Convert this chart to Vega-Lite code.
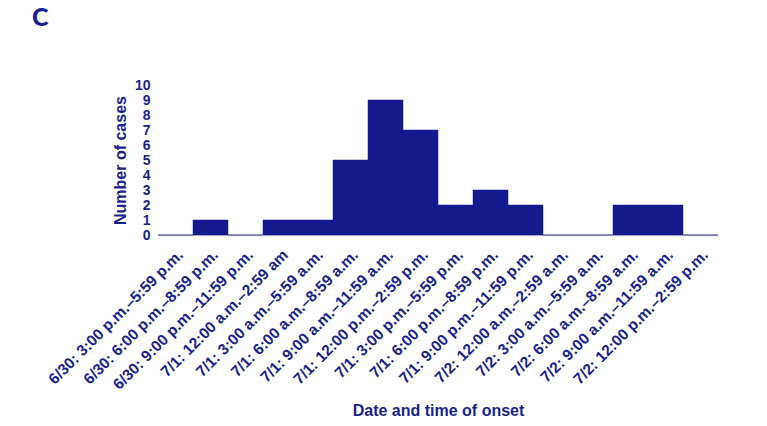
{
  "$schema": "https://vega.github.io/schema/vega-lite/v6.json",
  "width": 560,
  "height": 150,
  "autosize": "none",
  "padding": {"left": 158, "top": 85, "right": 49, "bottom": 191},
  "background": "white",
  "title": {"text": "C", "anchor": "start", "frame": "group", "dx": -126, "offset": 47, "fontSize": 25, "font": "Lato", "fontWeight": 900, "color": "#1A1F8E"},
  "data": {"values": [
    {"period": "6/30: 3:00 p.m.–5:59 p.m.", "cases": 0},
    {"period": "6/30: 6:00 p.m.–8:59 p.m.", "cases": 1},
    {"period": "6/30: 9:00 p.m.–11:59 p.m.", "cases": 0},
    {"period": "7/1: 12:00 a.m.–2:59 am", "cases": 1},
    {"period": "7/1: 3:00 a.m.–5:59 a.m.", "cases": 1},
    {"period": "7/1: 6:00 a.m.–8:59 a.m.", "cases": 5},
    {"period": "7/1: 9:00 a.m.–11:59 a.m.", "cases": 9},
    {"period": "7/1: 12:00 p.m.–2:59 p.m.", "cases": 7},
    {"period": "7/1: 3:00 p.m.–5:59 p.m.", "cases": 2},
    {"period": "7/1: 6:00 p.m.–8:59 p.m.", "cases": 3},
    {"period": "7/1: 9:00 p.m.–11:59 p.m.", "cases": 2},
    {"period": "7/2: 12:00 a.m.–2:59 a.m.", "cases": 0},
    {"period": "7/2: 3:00 a.m.–5:59 a.m.", "cases": 0},
    {"period": "7/2: 6:00 a.m.–8:59 a.m.", "cases": 2},
    {"period": "7/2: 9:00 a.m.–11:59 a.m.", "cases": 2},
    {"period": "7/2: 12:00 p.m.–2:59 p.m.", "cases": 0}
  ]},
  "mark": {"type": "bar", "color": "#141A8D", "stroke": "#141A8D", "strokeWidth": 0.5},
  "encoding": {
    "x": {
      "field": "period", "type": "nominal", "sort": null,
      "scale": {"paddingInner": 0, "paddingOuter": 0},
      "axis": {
        "title": "Date and time of onset", "labelAngle": -45, "labelFontSize": 15.5, "labelFontWeight": "bold",
        "labelFont": "Liberation Sans", "labelColor": "#1A1F8E", "labelPadding": 12, "ticks": false,
        "domainColor": "#D3D3D3", "domainWidth": 1.5, "titleFont": "Liberation Sans", "titleFontSize": 16,
        "titleFontWeight": "bold", "titleColor": "#1A1F8E", "titlePadding": 10, "labelLimit": 300
      }
    },
    "y": {
      "field": "cases", "type": "quantitative",
      "scale": {"domain": [0, 10], "nice": false},
      "axis": {
        "title": "Number of cases", "values": [0,1,2,3,4,5,6,7,8,9,10], "grid": false, "domain": false, "ticks": false,
        "labelFontSize": 14, "labelFontWeight": "bold", "labelFont": "Liberation Sans", "labelColor": "#1A1F8E",
        "labelPadding": 8, "labelOverlap": false, "titleFont": "Liberation Sans", "titleFontSize": 16,
        "titleFontWeight": "bold", "titleColor": "#1A1F8E", "titlePadding": 6
      }
    }
  },
  "config": {"view": {"stroke": null}}
}
